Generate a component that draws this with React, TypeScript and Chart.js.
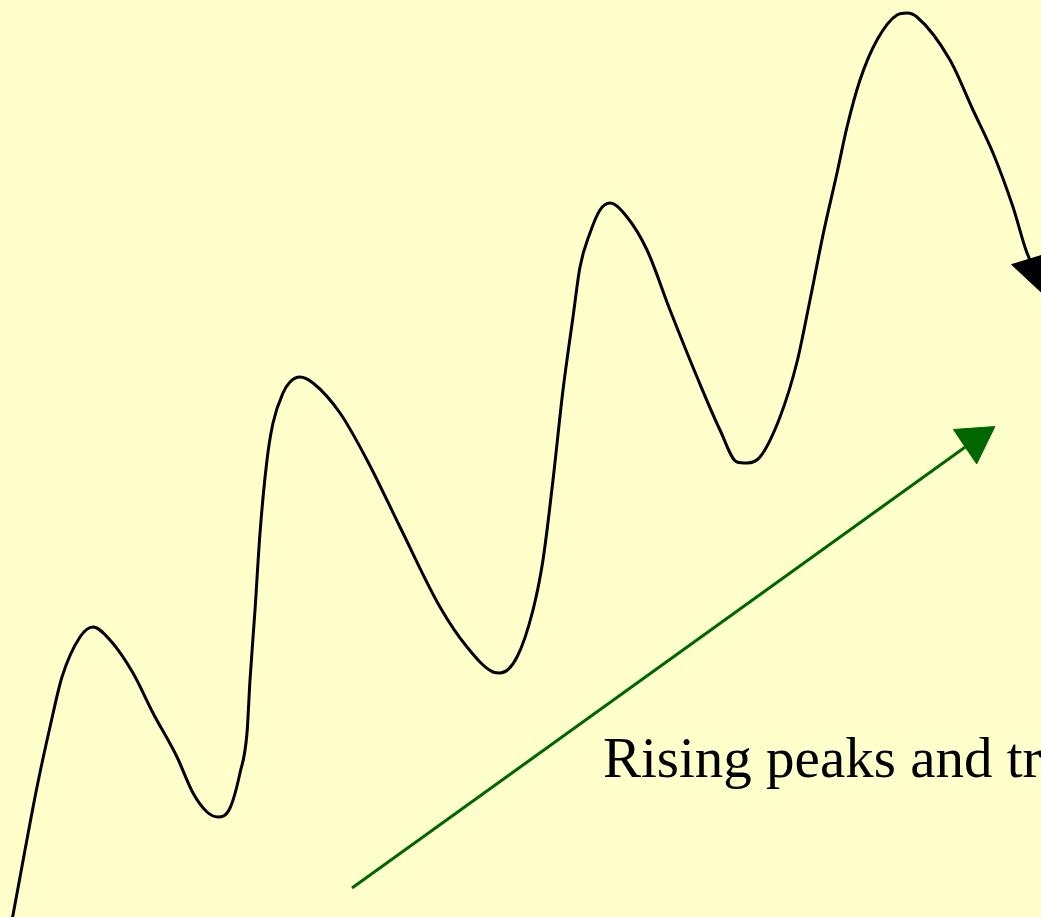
import React, { useEffect, useRef } from "react";
import { Chart, registerables } from "chart.js";

Chart.register(...registerables);

// Price path (x = time units, y = screen-row units, axis reversed)
const curveX = [11, 13, 25, 37, 50, 62, 80, 93, 110, 133, 153, 177, 193, 207, 218, 230, 240, 247, 250, 255, 260, 267, 273, 283, 290, 300, 313, 340, 367, 400, 440, 467, 493, 500, 517, 533, 543, 553, 563, 573, 580, 590, 600, 610, 627, 647, 670, 697, 720, 737, 747, 760, 780, 797, 810, 823, 837, 847, 860, 877, 897, 907, 917, 950, 973, 993, 1013, 1027, 1035];
const curveY = [925, 915, 850, 787, 727, 677, 637, 627, 640, 673, 713, 757, 793, 812, 817, 808, 773, 733, 680, 610, 533, 460, 423, 393, 382, 377, 383, 413, 460, 527, 607, 647, 672, 673, 657, 610, 560, 480, 390, 317, 267, 233, 210, 203, 217, 250, 310, 377, 430, 462, 463, 457, 417, 362, 300, 235, 173, 127, 80, 40, 15, 13, 17, 60, 110, 153, 207, 253, 270];

// Trend arrow (start, head)
const trendX = [352, 975];
const trendY = [888, 440];

const labelText = "Rising peaks and troughs";
const labelPos = { x: 603, y: 777 };

const X_MIN = 0, X_MAX = 1041, Y_MIN = 0, Y_MAX = 917;

export default function App() {
  const ref = useRef<HTMLCanvasElement | null>(null);

  useEffect(() => {
    if (!ref.current) return;
    const curveData = curveX.map((x, i) => ({ x, y: curveY[i] }));
    const trendData = trendX.map((x, i) => ({ x, y: trendY[i] }));
    const curveRadius = curveX.map((_, i) => (i === curveX.length - 1 ? 24 : 0));
    const trendRadius = trendX.map((_, i) => (i === trendX.length - 1 ? 24 : 0));

    const textPlugin = {
      id: "labelText",
      afterDatasetsDraw(chart: any) {
        const ctx = chart.ctx;
        const px = chart.scales.x.getPixelForValue(labelPos.x);
        const py = chart.scales.y.getPixelForValue(labelPos.y);
        ctx.save();
        ctx.fillStyle = "#000000";
        ctx.font = '57px "Liberation Serif", "Times New Roman", serif';
        ctx.textBaseline = "alphabetic";
        ctx.textAlign = "left";
        ctx.fillText(labelText, px, py);
        ctx.restore();
      },
    };

    const chart = new Chart(ref.current, {
      type: "line",
      data: {
        datasets: [
          {
            label: "Price",
            data: curveData,
            borderColor: "#000000",
            borderWidth: 3,
            cubicInterpolationMode: "monotone",
            pointRadius: curveRadius,
            pointStyle: "triangle",
            rotation: 163,
            pointBackgroundColor: "#000000",
            pointBorderColor: "#000000",
            pointBorderWidth: 1,
            fill: false,
            clip: false,
          } as any,
          {
            label: "Trend",
            data: trendData,
            borderColor: "#006600",
            borderWidth: 3,
            tension: 0,
            pointRadius: trendRadius,
            pointStyle: "triangle",
            rotation: 56,
            pointBackgroundColor: "#006600",
            pointBorderColor: "#006600",
            pointBorderWidth: 1,
            fill: false,
            clip: false,
          } as any,
        ],
      },
      options: {
        responsive: false,
        animation: false,
        events: [],
        layout: { padding: 0, autoPadding: false },
        plugins: {
          legend: { display: false },
          tooltip: { enabled: false },
          title: { display: false },
        },
        scales: {
          x: { type: "linear", min: X_MIN, max: X_MAX, display: false },
          y: { type: "linear", min: Y_MIN, max: Y_MAX, reverse: true, display: false },
        },
      },
      plugins: [textPlugin],
    });
    return () => chart.destroy();
  }, []);

  return (
    <div
      style={{
        position: "fixed",
        left: 0,
        top: 0,
        width: 1041,
        height: 917,
        background: "#FFFFCC",
        overflow: "hidden",
      }}
    >
      <canvas ref={ref} width={1041} height={917} style={{ display: "block" }} />
    </div>
  );
}
